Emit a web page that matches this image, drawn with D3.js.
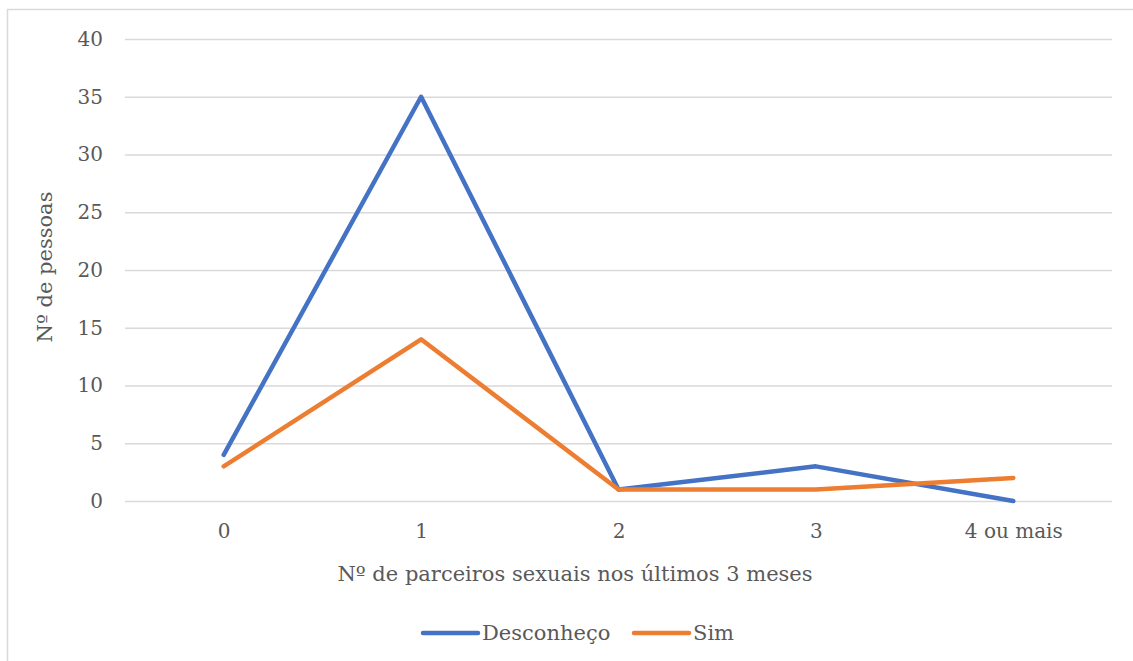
<!DOCTYPE html>
<html><head><meta charset="utf-8">
<script src="https://cdn.jsdelivr.net/npm/d3@7"></script>
<style>
html,body{margin:0;padding:0;background:#fff;}
svg{display:block;font-family:"DejaVu Serif",serif;}
</style></head>
<body><svg id="c" width="1133" height="661"></svg>
<script>
const categories = ["0", "1", "2", "3", "4 ou mais"];
const desconheco = [4, 35, 1, 3, 0];
const sim = [3, 14, 1, 1, 2];
const yTicks = [0, 5, 10, 15, 20, 25, 30, 35, 40];
const seriesNames = ["Desconheço", "Sim"];
const colors = ["#4472C4", "#ED7D31"];

(function () {
const svg = d3.select("#c");
const pLeft = 125, pRight = 1112, pTop = 39, pBottom = 501;
const textColor = "#595959";
const FONT = "DejaVu Serif, serif";

svg.append("rect").attr("x", 7.5).attr("y", 9.5).attr("width", 1140).attr("height", 700)
  .attr("fill", "#fff").attr("stroke", "#d9d9d9").attr("stroke-width", 1.5);

const x = d3.scalePoint().domain(categories).range([pLeft, pRight]).padding(0.5);
const y = d3.scaleLinear().domain([0, 40]).range([pBottom, pTop]);

const gy = svg.append("g").attr("transform", `translate(${pLeft},0)`)
  .call(d3.axisLeft(y).tickValues(yTicks).tickSize(-(pRight - pLeft)).tickPadding(22));
gy.select(".domain").remove();
gy.selectAll(".tick line").attr("stroke", "#d9d9d9").attr("stroke-width", 1.3);
gy.selectAll(".tick text").attr("fill", textColor).attr("font-size", 20)
  .attr("font-family", FONT);

const gx = svg.append("g").attr("transform", `translate(0,${pBottom})`)
  .call(d3.axisBottom(x).tickSize(0).tickPadding(23));
gx.select(".domain").remove();
gx.selectAll(".tick text").attr("fill", textColor).attr("font-size", 20)
  .attr("font-family", FONT);

const line = d3.line().x((d, i) => x(categories[i])).y(d => y(d));
[desconheco, sim].forEach((s, k) => {
  svg.append("path").datum(s).attr("d", line).attr("fill", "none")
    .attr("stroke", colors[k]).attr("stroke-width", 4.5)
    .attr("stroke-linecap", "round").attr("stroke-linejoin", "round");
});

svg.append("text").attr("x", 575).attr("y", 581)
  .attr("text-anchor", "middle").attr("fill", textColor).attr("font-size", 21)
  .attr("font-family", FONT)
  .text("Nº de parceiros sexuais nos últimos 3 meses");

svg.append("text").attr("transform", "translate(52,267) rotate(-90)")
  .attr("text-anchor", "middle").attr("fill", textColor).attr("font-size", 21)
  .attr("font-family", FONT)
  .text("Nº de pessoas");

const legendX = [423, 634];
seriesNames.forEach((n, k) => {
  const g = svg.append("g").attr("transform", `translate(${legendX[k]},633)`);
  g.append("line").attr("x1", 0).attr("x2", 55).attr("y1", 0).attr("y2", 0)
    .attr("stroke", colors[k]).attr("stroke-width", 4.5).attr("stroke-linecap", "round");
  g.append("text").attr("x", 59).attr("y", 7).attr("fill", textColor).attr("font-size", 21)
    .attr("font-family", FONT).text(n);
});
})();
</script></body></html>
